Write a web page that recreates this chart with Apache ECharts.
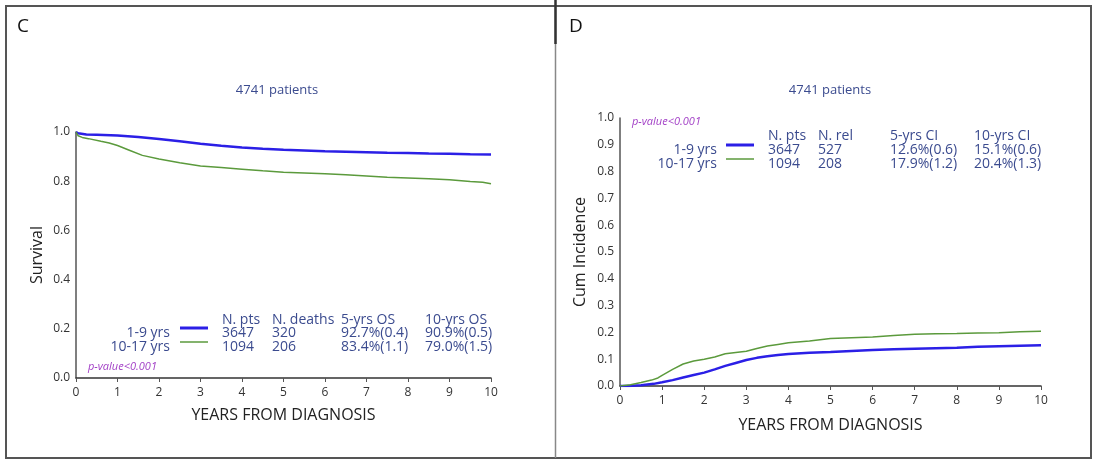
<!DOCTYPE html>
<html>
<head>
<meta charset="utf-8">
<script src="https://cdn.jsdelivr.net/npm/echarts@6/dist/echarts.min.js"></script>
<style>
html,body{margin:0;padding:0;background:#fff;}
#c{width:1093px;height:461px;}
</style>
</head>
<body>
<div id="c"></div>
<script>
// ---------- DATA ----------
const groups = ['1-9 yrs', '10-17 yrs'];
const xTicks = [0,1,2,3,4,5,6,7,8,9,10];

// Panel C: overall survival (time in years, survival probability)
const osYoung = [[0,1.0],[0.05,0.995],[0.25,0.99],[0.5,0.989],[1,0.986],[1.5,0.98],[2,0.972],[2.5,0.962],[3,0.952],[3.5,0.944],[4,0.937],[4.5,0.932],[5,0.928],[5.5,0.925],[6,0.922],[6.5,0.920],[7,0.918],[7.5,0.916],[8,0.915],[8.5,0.913],[9,0.912],[9.5,0.910],[10,0.909]];
const osOld = [[0,1.0],[0.05,0.985],[0.15,0.978],[0.3,0.973],[0.6,0.962],[0.8,0.955],[1.0,0.945],[1.3,0.925],[1.6,0.905],[2.0,0.89],[2.5,0.875],[3.0,0.862],[3.5,0.856],[4.0,0.849],[4.5,0.842],[5.0,0.836],[5.5,0.833],[6.0,0.83],[6.5,0.826],[7.0,0.821],[7.5,0.816],[8.0,0.813],[8.5,0.81],[9.0,0.806],[9.5,0.799],[9.8,0.796],[10,0.79]];

// Panel D: cumulative incidence of relapse
const ciYoung = [[0,0],[0.2,0],[0.5,0.003],[0.8,0.008],[1.0,0.014],[1.25,0.022],[1.5,0.032],[1.75,0.041],[2.0,0.05],[2.25,0.062],[2.5,0.075],[2.75,0.086],[3.0,0.097],[3.25,0.105],[3.5,0.111],[3.75,0.116],[4.0,0.119],[4.5,0.124],[5.0,0.127],[5.5,0.131],[6.0,0.134],[6.5,0.137],[7.0,0.139],[7.5,0.141],[8.0,0.143],[8.5,0.146],[9.0,0.148],[9.5,0.150],[10,0.152]];
const ciOld = [[0,0],[0.25,0.005],[0.5,0.013],[0.75,0.022],[0.9,0.03],[1.0,0.04],[1.25,0.062],[1.5,0.082],[1.75,0.093],[2.0,0.1],[2.25,0.108],[2.5,0.12],[2.75,0.125],[3.0,0.13],[3.25,0.14],[3.5,0.149],[3.75,0.155],[4.0,0.161],[4.5,0.168],[5.0,0.177],[5.5,0.18],[6.0,0.183],[6.5,0.188],[7.0,0.193],[7.5,0.195],[8.0,0.196],[8.5,0.198],[9.0,0.199],[9.5,0.202],[10,0.204]];

// Legend tables
const headersC = ['N. pts','N. deaths','5-yrs OS','10-yrs OS'];
const rowsC = [['3647','320','92.7%(0.4)','90.9%(0.5)'],['1094','206','83.4%(1.1)','79.0%(1.5)']];
const headersD = ['N. pts','N. rel','5-yrs CI','10-yrs CI'];
const rowsD = [['3647','527','12.6%(0.6)','15.1%(0.6)'],['1094','208','17.9%(1.2)','20.4%(1.3)']];
const titleText = '4741 patients';
const pText = 'p-value<0.001';

// ---------- STYLE ----------
const BLUE = '#2b1fe6', GREEN = '#5b9a3c', TXT = '#3b4b8f', PURPLE = '#a23fc6';
const FONT = '"Open Sans", "DejaVu Sans", sans-serif';

function txt(x, y, s, opt) {
  opt = opt || {};
  return {
    type: 'text', x: x, y: y, silent: true,
    style: {
      text: s, fill: opt.fill || TXT,
      font: (opt.style || 'normal') + ' ' + (opt.size || 14) + 'px ' + FONT,
      textAlign: opt.align || 'left', align: opt.align || 'left',
      textVerticalAlign: 'middle', verticalAlign: 'middle'
    }
  };
}

function legendTable(cfg) {
  const g = [];
  cfg.headers.forEach((h, i) => g.push(txt(cfg.cols[i], cfg.yHead, h)));
  cfg.rows.forEach((r, ri) => {
    const y = cfg.yRows[ri];
    g.push(txt(cfg.labelRight, y, groups[ri], {align: 'right'}));
    g.push({type: 'line', silent: true,
      shape: {x1: cfg.lineX[0], y1: y - 5, x2: cfg.lineX[1], y2: y - 5},
      style: {stroke: ri === 0 ? BLUE : GREEN, lineWidth: ri === 0 ? 3 : 1.5}});
    r.forEach((v, i) => g.push(txt(cfg.cols[i], y, v)));
  });
  return g;
}

const graphics = [].concat(
  [
    {type: 'rect', silent: true, shape: {x: 6, y: 6, width: 1085, height: 452},
      style: {fill: 'none', stroke: '#555', lineWidth: 2}},
    {type: 'line', silent: true, shape: {x1: 555.5, y1: 6, x2: 555.5, y2: 458},
      style: {stroke: '#888', lineWidth: 1.5}},
    {type: 'line', silent: true, shape: {x1: 555.5, y1: 0, x2: 555.5, y2: 44},
      style: {stroke: '#333', lineWidth: 2.5}},
    txt(17, 27, 'C', {size: 19, fill: '#111'}),
    txt(569, 27, 'D', {size: 19, fill: '#111'}),
    txt(277, 90, titleText, {size: 13, align: 'center'}),
    txt(830, 90, titleText, {size: 13, align: 'center'}),
    txt(88, 367, pText, {size: 11, style: 'italic', fill: PURPLE}),
    txt(632, 122, pText, {size: 11, style: 'italic', fill: PURPLE})
  ],
  legendTable({headers: headersC, rows: rowsC, cols: [222, 272, 341, 425],
    yHead: 320, yRows: [333, 347], labelRight: 170, lineX: [180, 208]}),
  legendTable({headers: headersD, rows: rowsD, cols: [768, 818, 890, 974],
    yHead: 136, yRows: [150, 164], labelRight: 717, lineX: [726, 754]})
);

function xAxis(gi, gap) {
  return {
    type: 'value', gridIndex: gi, min: 0, max: 10, interval: 1,
    name: 'YEARS FROM DIAGNOSIS', nameLocation: 'middle', nameGap: gap,
    nameTextStyle: {fontSize: 16, color: '#222', fontFamily: FONT},
    axisLine: {lineStyle: {color: '#333', width: 1.5}},
    axisTick: {show: true, length: 4, lineStyle: {color: '#555'}},
    axisLabel: {fontSize: 12, color: '#333', fontFamily: FONT, margin: 9,
      formatter: v => xTicks.indexOf(v) >= 0 ? String(v) : ''},
    splitLine: {show: false}
  };
}
function yAxis(gi, name, interval, gap) {
  return {
    type: 'value', gridIndex: gi, min: 0, max: 1, interval: interval,
    name: name, nameLocation: 'middle', nameGap: gap,
    nameTextStyle: {fontSize: 16, color: '#222', fontFamily: FONT},
    axisLine: {show: true, lineStyle: {color: '#555', width: 1.5}},
    axisTick: {show: false},
    axisLabel: {fontSize: 12, color: '#333', fontFamily: FONT, margin: 6,
      formatter: v => v.toFixed(1)},
    splitLine: {show: false}
  };
}
function line(gi, data, color, w) {
  return {type: 'line', xAxisIndex: gi, yAxisIndex: gi, data: data, showSymbol: false,
    symbol: 'none', lineStyle: {color: color, width: w}, animation: false, silent: true};
}

const chart = echarts.init(document.getElementById('c'), null, {renderer: 'canvas'});
chart.setOption({
  backgroundColor: '#fff',
  animation: false,
  grid: [
    {left: 76, top: 132, width: 415, height: 246},
    {left: 620, top: 118, width: 421, height: 268}
  ],
  xAxis: [xAxis(0, 29), xAxis(1, 31)],
  yAxis: [yAxis(0, 'Survival', 0.2, 31), yAxis(1, 'Cum Incidence', 0.1, 32)],
  series: [
    line(0, osYoung, BLUE, 2.5),
    line(0, osOld, GREEN, 1.5),
    line(1, ciYoung, BLUE, 2.5),
    line(1, ciOld, GREEN, 1.5)
  ],
  graphic: graphics
});
</script>
</body>
</html>
